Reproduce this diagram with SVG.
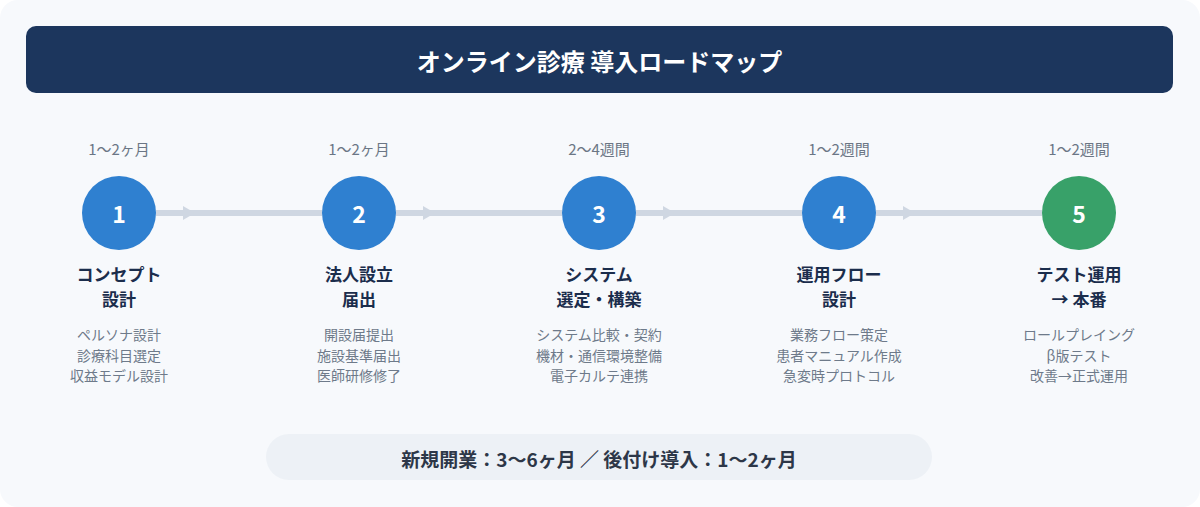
<svg xmlns="http://www.w3.org/2000/svg" width="1200" height="507" viewBox="0 0 1200 507">
  <style>
    text { font-family: "Noto Sans CJK JP", "Noto Sans", sans-serif; text-anchor: middle; dominant-baseline: central; }
    .title { font-size: 24px; font-weight: 700; fill: #ffffff; }
    .dur { font-size: 15px; fill: #6b7685; }
    .num { font-size: 23px; font-weight: 700; fill: #ffffff; }
    .name { font-size: 17px; font-weight: 700; fill: #1b2d4c; }
    .item { font-size: 14px; fill: #6e7a8a; }
    .foot { font-size: 19px; font-weight: 700; fill: #2d3748; }
    .blue { fill: #2f80d0; }
    .green { fill: #38a169; }
    .line { stroke: #cfd7e2; stroke-width: 6; }
    .head { fill: #cfd7e2; }
  </style>
  <rect x="0" y="0" width="1200" height="507" fill="#ffffff"/>
  <rect x="0" y="0" width="1200" height="507" rx="18" fill="#f7f9fc"/>
  <g id="header">
    <rect x="26" y="26" width="1147" height="67" rx="10" fill="#1c365d"/>
    <text class="title" x="599.5" y="60">オンライン診療 導入ロードマップ</text>
  </g>
  <g id="connectors">
    <line class="line" x1="156" y1="213" x2="322" y2="213"/>
    <polygon class="head" points="183,206 195,213 183,220"/>
    <line class="line" x1="396" y1="213" x2="562" y2="213"/>
    <polygon class="head" points="423,206 435,213 423,220"/>
    <line class="line" x1="636" y1="213" x2="802" y2="213"/>
    <polygon class="head" points="663,206 675,213 663,220"/>
    <line class="line" x1="876" y1="213" x2="1042" y2="213"/>
    <polygon class="head" points="903,206 915,213 903,220"/>
  </g>
  <g id="step1">
    <text class="dur" x="119" y="148">1〜2ヶ月</text>
    <circle class="blue" cx="119" cy="213" r="37"/>
    <text class="num" x="119" y="213">1</text>
    <text class="name" x="119" y="273">コンセプト</text>
    <text class="name" x="119" y="298">設計</text>
    <text class="item" x="119" y="334">ペルソナ設計</text>
    <text class="item" x="119" y="355">診療科目選定</text>
    <text class="item" x="119" y="375">収益モデル設計</text>
  </g>
  <g id="step2">
    <text class="dur" x="359" y="148">1〜2ヶ月</text>
    <circle class="blue" cx="359" cy="213" r="37"/>
    <text class="num" x="359" y="213">2</text>
    <text class="name" x="359" y="273">法人設立</text>
    <text class="name" x="359" y="298">届出</text>
    <text class="item" x="359" y="334">開設届提出</text>
    <text class="item" x="359" y="355">施設基準届出</text>
    <text class="item" x="359" y="375">医師研修修了</text>
  </g>
  <g id="step3">
    <text class="dur" x="599" y="148">2〜4週間</text>
    <circle class="blue" cx="599" cy="213" r="37"/>
    <text class="num" x="599" y="213">3</text>
    <text class="name" x="599" y="273">システム</text>
    <text class="name" x="599" y="298">選定・構築</text>
    <text class="item" x="599" y="334">システム比較・契約</text>
    <text class="item" x="599" y="355">機材・通信環境整備</text>
    <text class="item" x="599" y="375">電子カルテ連携</text>
  </g>
  <g id="step4">
    <text class="dur" x="839" y="148">1〜2週間</text>
    <circle class="blue" cx="839" cy="213" r="37"/>
    <text class="num" x="839" y="213">4</text>
    <text class="name" x="839" y="273">運用フロー</text>
    <text class="name" x="839" y="298">設計</text>
    <text class="item" x="839" y="334">業務フロー策定</text>
    <text class="item" x="839" y="355">患者マニュアル作成</text>
    <text class="item" x="839" y="375">急変時プロトコル</text>
  </g>
  <g id="step5">
    <text class="dur" x="1079" y="148">1〜2週間</text>
    <circle class="green" cx="1079" cy="213" r="37"/>
    <text class="num" x="1079" y="213">5</text>
    <text class="name" x="1079" y="273">テスト運用</text>
    <text class="name" x="1079" y="298">→ 本番</text>
    <text class="item" x="1079" y="334">ロールプレイング</text>
    <text class="item" x="1079" y="355">β版テスト</text>
    <text class="item" x="1079" y="375">改善→正式運用</text>
  </g>
  <g id="summary">
    <rect x="266" y="434" width="666" height="46" rx="23" fill="#edf1f6"/>
    <text class="foot" x="599" y="458">新規開業：3〜6ヶ月 ／ 後付け導入：1〜2ヶ月</text>
  </g>
</svg>
